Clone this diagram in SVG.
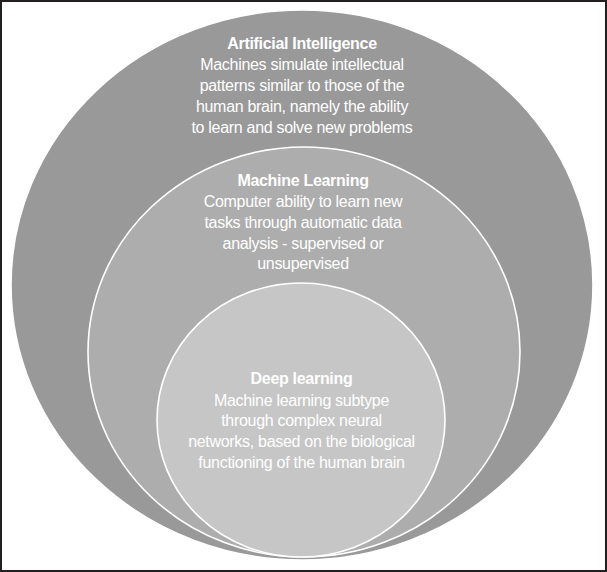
<svg xmlns="http://www.w3.org/2000/svg" width="607" height="572" viewBox="0 0 607 572">
<style>
.ring{stroke:#ffffff;stroke-width:1.6}
.t{font-family:"Liberation Sans",Arial,sans-serif;font-size:16px;fill:#ffffff;text-anchor:middle;letter-spacing:-0.3px}
.b{font-weight:bold}
</style>
<rect x="0" y="0" width="607" height="572" fill="#ffffff"/>
<rect x="1" y="1" width="605" height="570" fill="none" stroke="#231f20" stroke-width="2"/>
<g id="ai">
<ellipse class="ring" cx="302" cy="285" rx="291" ry="275" fill="#999999"/>
<text class="t b" x="302" y="48.5">Artificial Intelligence</text>
<text class="t" x="302" y="69.5">Machines simulate intellectual</text>
<text class="t" x="302" y="90.5">patterns similar to those of the</text>
<text class="t" x="302" y="111.5">human brain, namely the ability</text>
<text class="t" x="302" y="132.5">to learn and solve new problems</text>
</g>
<g id="ml">
<ellipse class="ring" cx="304" cy="352" rx="216" ry="205" fill="#adadad"/>
<text class="t b" x="303" y="186">Machine Learning</text>
<text class="t" x="303" y="207">Computer ability to learn new</text>
<text class="t" x="303" y="228">tasks through automatic data</text>
<text class="t" x="303" y="248.5">analysis - supervised or</text>
<text class="t" x="303" y="269">unsupervised</text>
</g>
<g id="dl">
<ellipse class="ring" cx="301" cy="420" rx="144" ry="137" fill="#c6c6c6"/>
<text class="t b" x="301.5" y="384">Deep learning</text>
<text class="t" x="301.5" y="405.5">Machine learning subtype</text>
<text class="t" x="301.5" y="426">through complex neural</text>
<text class="t" x="301.5" y="447">networks, based on the biological</text>
<text class="t" x="301.5" y="467.5">functioning of the human brain</text>
</g>
</svg>
